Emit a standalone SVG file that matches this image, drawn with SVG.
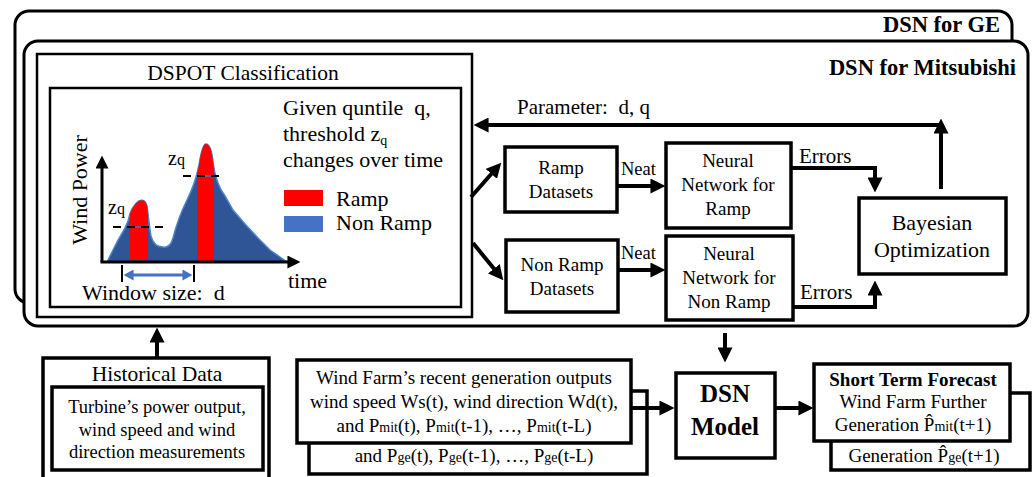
<svg xmlns="http://www.w3.org/2000/svg" width="1033" height="477" viewBox="0 0 1033 477">
<style>
text{font-family:"Liberation Serif","Times New Roman",serif;fill:#000}
.b{font-weight:bold}
.m{text-anchor:middle}
.e{text-anchor:end}
.box{fill:#fff;stroke:#000;stroke-width:3.5}
.frame{fill:#fff;stroke:#000;stroke-width:3}
.thin{fill:#fff;stroke:#000;stroke-width:2.5}
.conn path{fill:none;stroke:#000;stroke-width:4}
.dash{stroke:#000;stroke-width:2;stroke-dasharray:8 6}
</style>
<defs>
<marker id="ah" markerUnits="userSpaceOnUse" markerWidth="15" markerHeight="15" viewBox="0 0 14 14" refX="0.5" refY="7" orient="auto"><path d="M0,0 L14,7 L0,14 z" fill="#000"/></marker>
<marker id="ahs" markerUnits="userSpaceOnUse" markerWidth="13" markerHeight="13" viewBox="0 0 12 12" refX="0.5" refY="6" orient="auto"><path d="M0,0 L12,6 L0,12 z" fill="#000"/></marker>
<marker id="ahb" markerUnits="userSpaceOnUse" markerWidth="10" markerHeight="11" viewBox="0 0 9 10" refX="0.5" refY="5" orient="auto-start-reverse"><path d="M0,0 L9,5 L0,10 z" fill="#4472C4"/></marker>
<clipPath id="areaClip"><path id="areaPath" d="M107,262 L112,252 L118,240 L124,230 L128,221 C130,212 134,204 139,201 C143,199 146,201 147,206 C148,212 149,225 151,236 C153,244 157,247 163,247 C168,248 171,245 173,238 C176,226 181,212 187,200 C193,188 196,180 199,165 C201,152 203,144 206,144 C210,144 212,152 213,162 C215,178 219,188 225,196 L233,210 L245,224 L258,238 L270,250 L280,257 L287,262 Z"/></clipPath>
</defs>

<g id="dsn-ge">
<rect class="frame" x="15" y="11" width="997" height="292" rx="14"/>
<text class="b e" x="1000" y="32" font-size="22.5">DSN for GE</text>
</g>

<g id="dsn-mitsubishi">
<rect class="frame" x="24" y="41" width="1004" height="285" rx="14"/>
<text class="b e" x="1016" y="75" font-size="22.5">DSN for Mitsubishi</text>
</g>

<g id="dspot">
<rect class="thin" x="37" y="54" width="435" height="263"/>
<text class="m" x="243" y="80" font-size="21.5">DSPOT Classification</text>
<rect class="thin" x="50" y="88" width="411" height="219"/>
<text x="283" y="115" font-size="22">Given quntile&#160; q,</text>
<text x="283" y="141" font-size="22">threshold z<tspan font-size="14" dy="4">q</tspan></text>
<text x="283" y="167" font-size="22">changes over time</text>
<rect x="284" y="190" width="39" height="16" fill="#FF0000"/>
<text x="336" y="206" font-size="22">Ramp</text>
<rect x="284" y="216" width="39" height="16" fill="#4472C4"/>
<text x="336" y="230" font-size="22">Non Ramp</text>
<use href="#areaPath" fill="#2F5597" stroke="#4A86C8" stroke-width="1.5"/>
<g clip-path="url(#areaClip)">
<rect x="130" y="140" width="18" height="120" fill="#FF0000"/>
<rect x="197" y="140" width="17" height="122" fill="#FF0000"/>
</g>
<line x1="130" y1="227" x2="148" y2="227" stroke="#4472C4" stroke-width="1.5"/>
<line x1="197" y1="176" x2="214" y2="176" stroke="#4472C4" stroke-width="1.5"/>
<line class="dash" x1="113" y1="227" x2="166" y2="227"/>
<line class="dash" x1="183" y1="176" x2="221" y2="176"/>
<text x="108" y="214" font-size="20">z<tspan font-size="16">q</tspan></text>
<text x="168" y="165" font-size="20">z<tspan font-size="16">q</tspan></text>
<path d="M102,262 V168" stroke="#000" stroke-width="3" fill="none" marker-end="url(#ahs)"/>
<path d="M100.5,262 H288" stroke="#000" stroke-width="3" fill="none" marker-end="url(#ahs)"/>
<text x="87" y="190" font-size="22" class="m" transform="rotate(-90 87 190)">Wind Power</text>
<text x="288" y="288" font-size="22">time</text>
<line x1="122" y1="265" x2="122" y2="282" stroke="#000" stroke-width="2"/>
<line x1="194" y1="265" x2="194" y2="282" stroke="#000" stroke-width="2"/>
<path d="M133,275 H183" stroke="#4472C4" stroke-width="3" fill="none" marker-start="url(#ahb)" marker-end="url(#ahb)"/>
<text x="82" y="300" font-size="22">Window size:&#160; d</text>
</g>

<g id="ramp-datasets">
<rect class="box" x="505" y="147" width="112" height="65"/>
<text class="m" x="561" y="174" font-size="19">Ramp</text>
<text class="m" x="561" y="198" font-size="19">Datasets</text>
</g>

<g id="nonramp-datasets">
<rect class="box" x="506" y="240" width="112" height="72"/>
<text class="m" x="562" y="271" font-size="19">Non Ramp</text>
<text class="m" x="562" y="295" font-size="19">Datasets</text>
</g>

<g id="nn-ramp">
<rect class="box" x="666" y="143" width="125" height="85"/>
<text class="m" x="728" y="167" font-size="19">Neural</text>
<text class="m" x="728" y="191" font-size="19">Network for</text>
<text class="m" x="728" y="215" font-size="19">Ramp</text>
</g>

<g id="nn-nonramp">
<rect class="box" x="666" y="236" width="127" height="84"/>
<text class="m" x="729" y="260" font-size="19">Neural</text>
<text class="m" x="729" y="284" font-size="19">Network for</text>
<text class="m" x="729" y="308" font-size="19">Non Ramp</text>
</g>

<g id="bayesian">
<rect class="box" x="859" y="198" width="147" height="76"/>
<text class="m" x="932" y="230" font-size="22">Bayesian</text>
<text class="m" x="932" y="257" font-size="22">Optimization</text>
</g>

<g id="historical">
<rect class="box" x="43" y="358" width="226" height="125"/>
<text class="m" x="157" y="381" font-size="21.5">Historical Data</text>
<rect class="box" x="52" y="387" width="211" height="83"/>
<text class="m" x="157" y="413" font-size="18.5">Turbine’s power output,</text>
<text class="m" x="157" y="436" font-size="18.5">wind speed and wind</text>
<text class="m" x="157" y="458" font-size="18.5">direction measurements</text>
</g>

<g id="wind-farm-inputs">
<rect class="box" x="309" y="391" width="338" height="83"/>
<text class="m" x="474" y="462" font-size="19">and P<tspan font-size="14">ge</tspan>(t), P<tspan font-size="14">ge</tspan>(t-1), …, P<tspan font-size="14">ge</tspan>(t-L)</text>
<rect class="box" x="297" y="360" width="334" height="83"/>
<text class="m" x="464" y="384" font-size="19">Wind Farm’s recent generation outputs</text>
<text class="m" x="464" y="408" font-size="19">wind speed Ws(t), wind direction Wd(t),</text>
<text class="m" x="464" y="432" font-size="19">and P<tspan font-size="14">mit</tspan>(t), P<tspan font-size="14">mit</tspan>(t-1), …, P<tspan font-size="14">mit</tspan>(t-L)</text>
</g>

<g id="dsn-model">
<rect class="box" x="676" y="373" width="99" height="85"/>
<text class="m b" x="725" y="402" font-size="25">DSN</text>
<text class="m b" x="725" y="435" font-size="25">Model</text>
</g>

<g id="short-term-forecast">
<rect class="box" x="831" y="393" width="199" height="77"/>
<text class="m" x="924" y="462" font-size="19">Generation P̂<tspan font-size="14">ge</tspan>(t+1)</text>
<rect class="box" x="814" y="364" width="196" height="77"/>
<text class="m b" x="913" y="386" font-size="19">Short Term Forecast</text>
<text class="m" x="913" y="408" font-size="19">Wind Farm Further</text>
<text class="m" x="913" y="431" font-size="19">Generation P̂<tspan font-size="14">mit</tspan>(t+1)</text>
</g>

<g id="labels">
<text x="517" y="114" font-size="21">Parameter:&#160; d, q</text>
<text x="621" y="175" font-size="18.5">Neat</text>
<text x="621" y="259" font-size="18.5">Neat</text>
<text x="799" y="163" font-size="21">Errors</text>
<text x="800" y="299" font-size="21">Errors</text>
</g>

<g class="conn" id="connectors">
<path d="M941,125 H488" marker-end="url(#ah)"/>
<path d="M941,189 V133" marker-end="url(#ah)"/>
<path d="M471,197 L491.7,173.5" marker-end="url(#ah)"/>
<path d="M473,243 L494.2,269.1" marker-end="url(#ah)"/>
<path d="M617,186 H651" marker-end="url(#ah)"/>
<path d="M618,270 H651" marker-end="url(#ah)"/>
<path d="M791,168 H875 V178" marker-end="url(#ah)"/>
<path d="M793,307 H875 V295" marker-end="url(#ah)"/>
<path d="M157,358 V342" marker-end="url(#ah)"/>
<path d="M725,333 V348" marker-end="url(#ah)"/>
<path d="M631,408 H660" marker-end="url(#ah)"/>
<path d="M775,408 H799" marker-end="url(#ah)"/>
</g>
</svg>
